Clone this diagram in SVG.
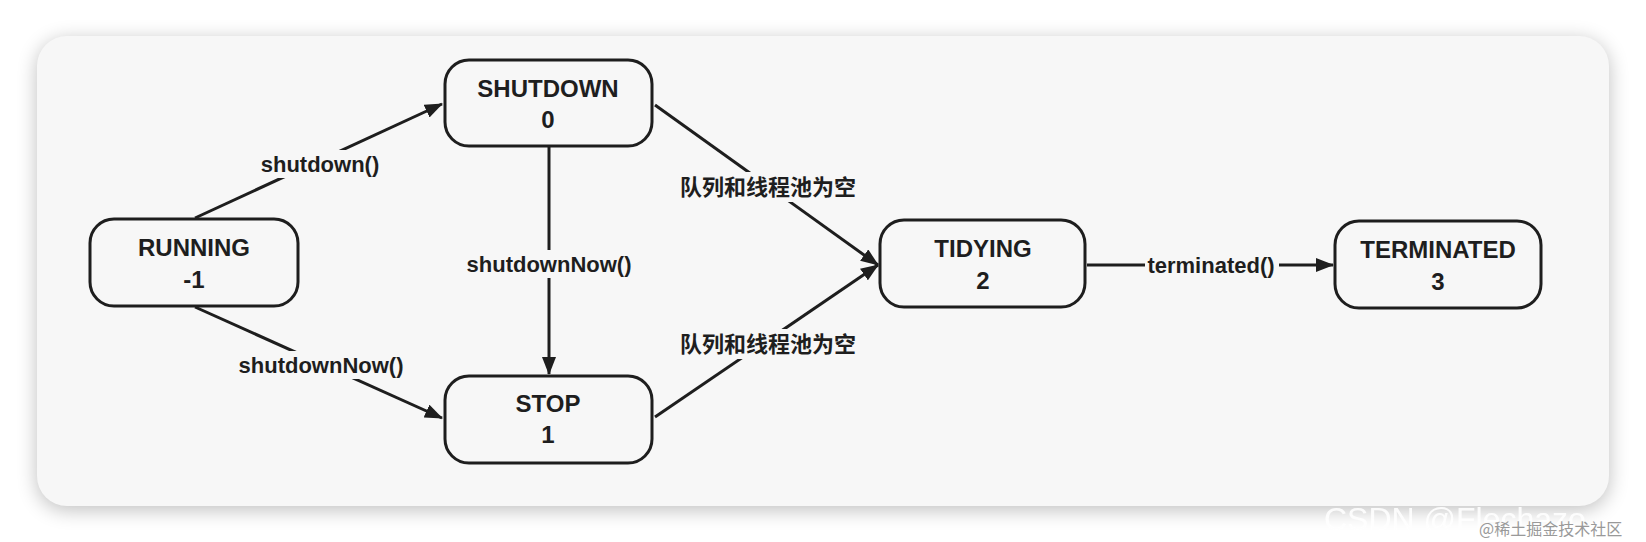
<svg xmlns="http://www.w3.org/2000/svg" width="1646" height="542" viewBox="0 0 1646 542">
<defs>
<filter id="sh" x="-5%" y="-20%" width="110%" height="140%"><feGaussianBlur stdDeviation="10"/></filter>
<marker id="ah" markerWidth="18" markerHeight="14" refX="17" refY="7" orient="auto" markerUnits="userSpaceOnUse"><path d="M0,0 L18,7 L0,14 Z" fill="#1e1e1e"/></marker>
</defs>
<style>
.n{fill:#f7f7f7;stroke:#1e1e1e;stroke-width:3}
.t{font-family:"Liberation Sans","Noto Sans CJK SC",sans-serif;font-weight:bold;font-size:24px;fill:#1e1e1e;text-anchor:middle;dominant-baseline:central}
.e{stroke:#1e1e1e;stroke-width:3;fill:none;marker-end:url(#ah)}
.l{font-family:"Liberation Sans","Noto Sans CJK SC",sans-serif;font-weight:bold;font-size:22px;fill:#1e1e1e;text-anchor:middle;dominant-baseline:central}
.lb{fill:#f7f7f7}
</style>
<rect width="1646" height="542" fill="#ffffff"/>
<rect x="37" y="40" width="1572" height="470" rx="30" fill="#000" opacity="0.25" filter="url(#sh)"/>
<rect x="37" y="36" width="1572" height="470" rx="30" fill="#f7f7f7"/>
<g id="edges">
<line class="e" x1="195" y1="218" x2="442" y2="104"/>
<line class="e" x1="195" y1="307" x2="442" y2="418"/>
<line class="e" x1="549" y1="146" x2="549" y2="374"/>
<line class="e" x1="655" y1="105" x2="878" y2="265"/>
<line class="e" x1="655" y1="417" x2="878" y2="265"/>
<line class="e" x1="1087" y1="265" x2="1333" y2="265"/>
<rect class="lb" x="246" y="150" width="148" height="28"/>
<text class="l" x="320" y="164">shutdown()</text>
<rect class="lb" x="215" y="351" width="212" height="28"/>
<text class="l" x="321" y="365">shutdownNow()</text>
<rect class="lb" x="443" y="250" width="212" height="28"/>
<text class="l" x="549" y="264">shutdownNow()</text>
<rect class="lb" x="670" y="172" width="196" height="30"/>
<text class="l" x="768" y="187">队列和线程池为空</text>
<rect class="lb" x="670" y="329" width="196" height="30"/>
<text class="l" x="768" y="344">队列和线程池为空</text>
<rect class="lb" x="1145" y="251" width="134" height="28"/>
<text class="l" x="1211" y="265">terminated()</text>
</g>
<g id="running"><rect class="n" x="90" y="219" width="208" height="87" rx="24"/><text class="t" x="194" y="247">RUNNING</text><text class="t" x="194" y="279">-1</text></g>
<g id="shutdown"><rect class="n" x="445" y="60" width="207" height="86" rx="24"/><text class="t" x="548" y="88">SHUTDOWN</text><text class="t" x="548" y="119">0</text></g>
<g id="stop"><rect class="n" x="445" y="376" width="207" height="87" rx="24"/><text class="t" x="548" y="403">STOP</text><text class="t" x="548" y="434">1</text></g>
<g id="tidying"><rect class="n" x="880" y="220" width="205" height="87" rx="24"/><text class="t" x="983" y="248">TIDYING</text><text class="t" x="983" y="280">2</text></g>
<g id="terminated"><rect class="n" x="1335" y="221" width="206" height="87" rx="24"/><text class="t" x="1438" y="249">TERMINATED</text><text class="t" x="1438" y="281">3</text></g>
<text x="1324" y="530" font-family="Liberation Sans,sans-serif" font-size="32" fill="#ffffff" opacity="0.9">CSDN @Flechazo</text>
<text x="1479" y="535" font-family="Noto Sans CJK SC,sans-serif" font-size="16" fill="#999">@稀土掘金技术社区</text>
</svg>
